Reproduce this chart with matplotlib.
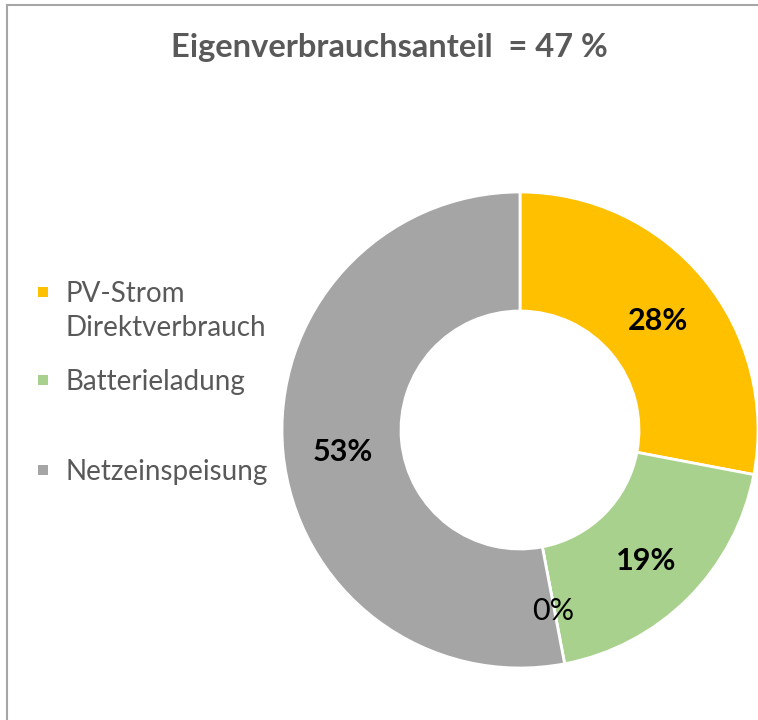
import matplotlib.pyplot as plt
from matplotlib.patches import Rectangle
from matplotlib.lines import Line2D

# Anteile der PV-Erzeugung (%)
categories = ['PV-Strom\nDirektverbrauch', 'Batterieladung', '', 'Netzeinspeisung']
values = [28, 19, 0, 53]
colors = ['#FFC000', '#A9D18E', '#FFFFFF', '#A5A5A5']
title = 'Eigenverbrauchsanteil  = 47 %'

W, H = 758, 720
fig = plt.figure(figsize=(W / 100, H / 100), dpi=100)
plt.rcParams['font.family'] = ['Lato', 'DejaVu Sans']

# chart area border (only top/left visible in crop)
fig.add_artist(Line2D([7 / W, 7 / W], [0, 1 - 5 / H], color='#A6A6A6', lw=1.5))
fig.add_artist(Line2D([7 / W, 1], [1 - 5 / H, 1 - 5 / H], color='#A6A6A6', lw=1.5))

# donut
cx, cy, r = 520, 430, 238
ax = fig.add_axes([(cx - r) / W, (H - cy - r) / H, 2 * r / W, 2 * r / H])
wedges, _, autotexts = ax.pie(
    values, colors=colors, startangle=90, counterclock=False,
    autopct='%1.0f%%', pctdistance=0.75,
    wedgeprops=dict(width=0.5, edgecolor='white', linewidth=2),
    textprops=dict(fontsize=22, fontweight='bold', color='black'),
)
for v, t in zip(values, autotexts):
    if v == 0:
        t.set_fontweight('normal')
    # Excel sets data labels a little lower than the ring middle
    x, y = t.get_position()
    t.set_position((x, y - 0.022))
ax.set_xlim(-1, 1)
ax.set_ylim(-1, 1)
ax.set_aspect('equal')

fig.text(389 / W, 1 - 48 / H, title, ha='center', va='center',
         fontsize=23.5, fontweight='bold', color='#595959')

# legend (Excel-style: marker aligned with first line)
ys = [292, 380, 425, 470]
for lab, col, y in zip(categories, colors, ys):
    if not lab:
        continue
    fig.add_artist(Rectangle((38 / W, 1 - (y + 5) / H), 10 / W, 10 / H,
                             facecolor=col, edgecolor='none'))
    for i, line in enumerate(lab.split('\n')):
        fig.text(66 / W, 1 - (y + 10 + 34 * i) / H, line, ha='left', va='baseline',
                 fontsize=20, color='#595959')

fig.savefig('out.png', dpi=100)
